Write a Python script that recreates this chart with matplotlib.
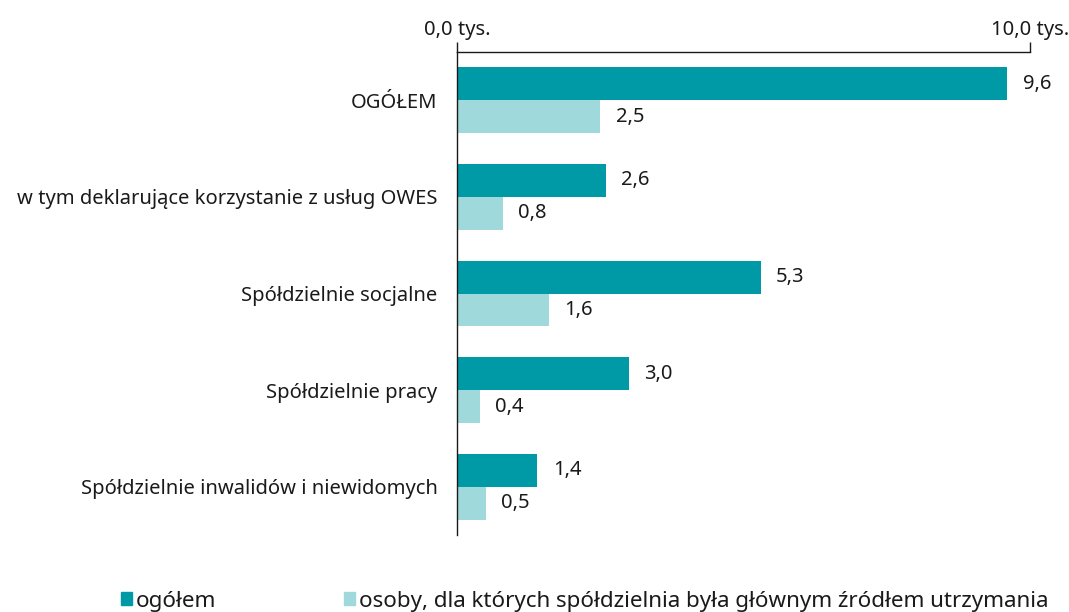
import matplotlib.pyplot as plt
import numpy as np
from matplotlib.patches import Patch

plt.rcParams['font.family'] = ['Noto Sans', 'DejaVu Sans']

categories = ['OGÓŁEM', 'w tym deklarujące korzystanie z usług OWES',
              'Spółdzielnie socjalne', 'Spółdzielnie pracy',
              'Spółdzielnie inwalidów i niewidomych']
ogolem = [9.6, 2.6, 5.3, 3.0, 1.4]
osoby = [2.5, 0.8, 1.6, 0.4, 0.5]
series_names = ['ogółem', 'osoby, dla których spółdzielnia była głównym źródłem utrzymania']

dark = '#0099a6'
light = '#9fd9dc'
txt = '#1a1a1a'
fs = 14.5

fig = plt.figure(figsize=[10.69, 6.12], dpi=100)
ax = fig.add_axes([457/1069, 1 - 535/612, (1030-457)/1069, (535-52)/612])

y = np.arange(len(categories))
h = 0.34
ax.barh(y - h/2, ogolem, height=h, color=dark)
ax.barh(y + h/2, osoby, height=h, color=light)

for i in range(len(categories)):
    ax.text(ogolem[i] + 0.27, y[i] - h/2, f'{ogolem[i]:.1f}'.replace('.', ','),
            va='center', ha='left', fontsize=fs, color=txt)
    ax.text(osoby[i] + 0.27, y[i] + h/2, f'{osoby[i]:.1f}'.replace('.', ','),
            va='center', ha='left', fontsize=fs, color=txt)

ax.set_xlim(0, 10)
ax.set_ylim(4.5, -0.5)
ax.xaxis.tick_top()
ax.set_xticks([0, 10])
ax.set_xticklabels(['0,0 tys.', '10,0 tys.'], fontsize=fs, color=txt)
ax.tick_params(axis='x', length=7, width=1, pad=2, color=txt)
ax.set_yticks(y)
ax.set_yticklabels(categories, fontsize=fs, color=txt)
ax.tick_params(axis='y', length=0, pad=14)
for s in ['right', 'bottom']:
    ax.spines[s].set_visible(False)
for s in ['top', 'left']:
    ax.spines[s].set_color(txt)
    ax.spines[s].set_linewidth(1)

legend_x = [121/1069, 344/1069]
colors = [dark, light]
for i in range(2):
    leg = fig.legend([Patch(color=colors[i])], [series_names[i]], loc='center left',
                     bbox_to_anchor=(legend_x[i], 1 - 601/612), frameon=False,
                     fontsize=16.1, handlelength=0.5, handleheight=0.5,
                     handletextpad=0.15, borderpad=0, borderaxespad=0, labelcolor=txt)

fig.savefig('out.png', dpi=100)
